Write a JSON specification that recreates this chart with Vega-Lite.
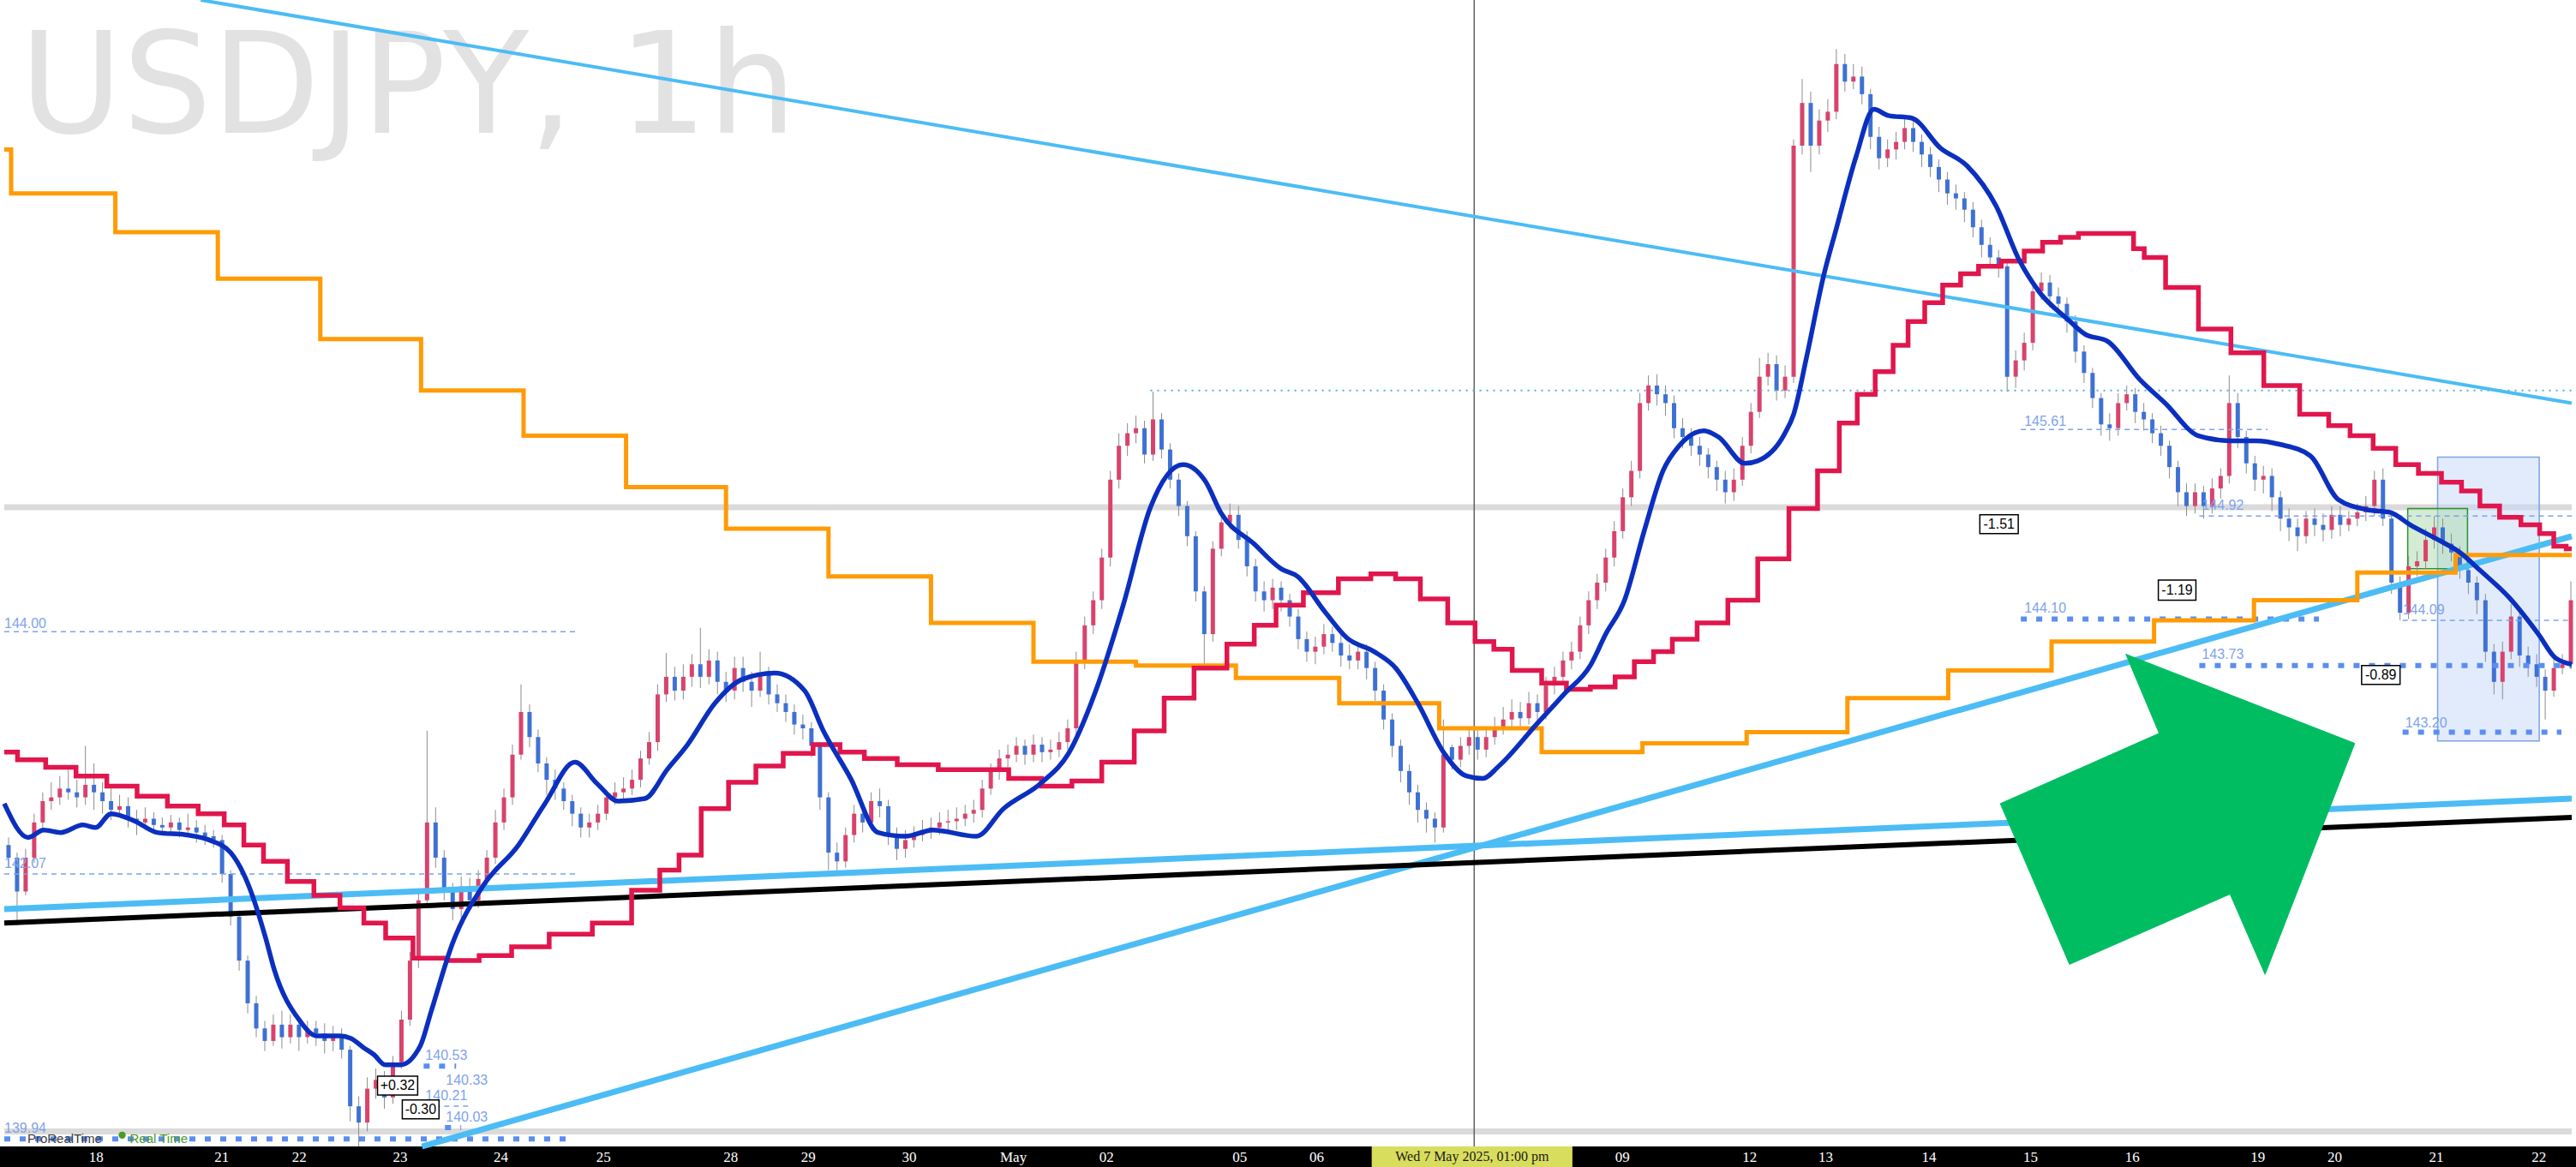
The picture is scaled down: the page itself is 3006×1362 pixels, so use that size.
{
"$schema": "https://vega.github.io/schema/vega-lite/v6.json",
"width": 3006, "height": 1338,
"autosize": {"type": "none"},
"padding": {"left": 0, "top": 0, "right": 0, "bottom": 24},
"background": "#000000",
"config": {"view": {"fill": "#ffffff", "stroke": null}, "font": "Liberation Sans"},
"datasets": {
"candles": [
{"t":1,"o":142.30,"c":142.20,"h":142.36,"l":142.12},{"t":3,"o":142.20,"c":141.93,"h":142.24,"l":141.66},{"t":5,"o":141.93,"c":142.20,"h":142.27,"l":141.90},{"t":7,"o":142.20,"c":142.48,"h":142.55,"l":142.16},{"t":9,"o":142.48,"c":142.65,"h":142.72,"l":142.44},{"t":11,"o":142.65,"c":142.68,"h":142.80,"l":142.58},{"t":13,"o":142.68,"c":142.75,"h":142.85,"l":142.62},{"t":15,"o":142.75,"c":142.72,"h":142.90,"l":142.66},{"t":17,"o":142.72,"c":142.68,"h":142.82,"l":142.60},{"t":19,"o":142.68,"c":142.78,"h":143.09,"l":142.62},
{"t":21,"o":142.78,"c":142.72,"h":142.95,"l":142.58},{"t":23,"o":142.72,"c":142.65,"h":142.80,"l":142.55},{"t":25,"o":142.65,"c":142.58,"h":142.75,"l":142.50},{"t":27,"o":142.58,"c":142.61,"h":142.70,"l":142.52},{"t":29,"o":142.61,"c":142.51,"h":142.68,"l":142.44},{"t":31,"o":142.51,"c":142.48,"h":142.58,"l":142.38},{"t":33,"o":142.48,"c":142.51,"h":142.60,"l":142.42},{"t":35,"o":142.51,"c":142.46,"h":142.56,"l":142.40},{"t":37,"o":142.46,"c":142.44,"h":142.52,"l":142.38},{"t":39,"o":142.44,"c":142.48,"h":142.54,"l":142.40},
{"t":41,"o":142.48,"c":142.42,"h":142.52,"l":142.36},{"t":43,"o":142.42,"c":142.44,"h":142.55,"l":142.38},{"t":45,"o":142.44,"c":142.40,"h":142.50,"l":142.32},{"t":47,"o":142.40,"c":142.37,"h":142.46,"l":142.30},{"t":49,"o":142.37,"c":142.34,"h":142.42,"l":142.28},{"t":51,"o":142.34,"c":142.07,"h":142.38,"l":142.00},{"t":53,"o":142.07,"c":141.73,"h":142.10,"l":141.66},{"t":55,"o":141.73,"c":141.38,"h":141.78,"l":141.30},{"t":57,"o":141.38,"c":141.04,"h":141.42,"l":140.96},{"t":59,"o":141.04,"c":140.84,"h":141.10,"l":140.77},
{"t":61,"o":140.84,"c":140.74,"h":140.90,"l":140.66},{"t":63,"o":140.74,"c":140.87,"h":140.95,"l":140.70},{"t":65,"o":140.87,"c":140.77,"h":140.98,"l":140.68},{"t":67,"o":140.77,"c":140.87,"h":140.95,"l":140.72},{"t":69,"o":140.87,"c":140.77,"h":140.92,"l":140.66},{"t":71,"o":140.77,"c":140.84,"h":140.90,"l":140.72},{"t":73,"o":140.84,"c":140.80,"h":140.90,"l":140.70},{"t":75,"o":140.80,"c":140.74,"h":140.88,"l":140.64},{"t":77,"o":140.74,"c":140.77,"h":140.86,"l":140.66},{"t":79,"o":140.77,"c":140.67,"h":140.84,"l":140.60},
{"t":81,"o":140.67,"c":140.22,"h":140.70,"l":140.10},{"t":83,"o":140.22,"c":140.09,"h":140.30,"l":139.90},{"t":85,"o":140.09,"c":140.36,"h":140.45,"l":140.02},{"t":87,"o":140.36,"c":140.43,"h":140.52,"l":140.28},{"t":89,"o":140.43,"c":140.29,"h":140.50,"l":140.20},{"t":91,"o":140.29,"c":140.57,"h":140.62,"l":140.24},{"t":93,"o":140.57,"c":140.91,"h":140.98,"l":140.52},{"t":95,"o":140.91,"c":141.38,"h":141.45,"l":140.86},{"t":97,"o":141.38,"c":141.86,"h":141.92,"l":141.32},{"t":99,"o":141.86,"c":142.48,"h":143.21,"l":141.82},
{"t":101,"o":142.48,"c":142.20,"h":142.60,"l":142.12},{"t":103,"o":142.20,"c":141.93,"h":142.26,"l":141.86},{"t":105,"o":141.93,"c":141.79,"h":142.00,"l":141.70},{"t":107,"o":141.79,"c":141.97,"h":142.05,"l":141.72},{"t":109,"o":141.97,"c":141.86,"h":142.04,"l":141.78},{"t":111,"o":141.86,"c":142.03,"h":142.10,"l":141.80},{"t":113,"o":142.03,"c":142.20,"h":142.26,"l":141.98},{"t":115,"o":142.20,"c":142.48,"h":142.58,"l":142.15},{"t":117,"o":142.48,"c":142.68,"h":142.75,"l":142.42},{"t":119,"o":142.68,"c":143.02,"h":143.10,"l":142.62},
{"t":121,"o":143.02,"c":143.36,"h":143.58,"l":142.98},{"t":123,"o":143.36,"c":143.16,"h":143.42,"l":143.08},{"t":125,"o":143.16,"c":142.95,"h":143.22,"l":142.88},{"t":127,"o":142.95,"c":142.82,"h":143.00,"l":142.70},{"t":129,"o":142.82,"c":142.75,"h":142.90,"l":142.66},{"t":131,"o":142.75,"c":142.65,"h":142.80,"l":142.58},{"t":133,"o":142.65,"c":142.55,"h":142.70,"l":142.45},{"t":135,"o":142.55,"c":142.44,"h":142.60,"l":142.36},{"t":137,"o":142.44,"c":142.48,"h":142.55,"l":142.36},{"t":139,"o":142.48,"c":142.55,"h":142.62,"l":142.42},
{"t":141,"o":142.55,"c":142.68,"h":142.74,"l":142.50},{"t":143,"o":142.68,"c":142.72,"h":142.80,"l":142.62},{"t":145,"o":142.72,"c":142.75,"h":142.84,"l":142.66},{"t":147,"o":142.75,"c":142.82,"h":142.90,"l":142.70},{"t":149,"o":142.82,"c":142.99,"h":143.05,"l":142.76},{"t":151,"o":142.99,"c":143.12,"h":143.20,"l":142.94},{"t":153,"o":143.12,"c":143.50,"h":143.58,"l":143.05},{"t":155,"o":143.50,"c":143.64,"h":143.83,"l":143.44},{"t":157,"o":143.64,"c":143.53,"h":143.72,"l":143.45},{"t":159,"o":143.53,"c":143.64,"h":143.74,"l":143.46},
{"t":161,"o":143.64,"c":143.74,"h":143.82,"l":143.56},{"t":163,"o":143.74,"c":143.64,"h":144.03,"l":143.55},{"t":165,"o":143.64,"c":143.77,"h":143.86,"l":143.58},{"t":167,"o":143.77,"c":143.60,"h":143.84,"l":143.50},{"t":169,"o":143.60,"c":143.53,"h":143.68,"l":143.44},{"t":171,"o":143.53,"c":143.71,"h":143.80,"l":143.46},{"t":173,"o":143.71,"c":143.60,"h":143.80,"l":143.52},{"t":175,"o":143.60,"c":143.53,"h":143.68,"l":143.40},{"t":177,"o":143.53,"c":143.67,"h":143.84,"l":143.48},{"t":179,"o":143.67,"c":143.50,"h":143.72,"l":143.42},
{"t":181,"o":143.50,"c":143.43,"h":143.58,"l":143.36},{"t":183,"o":143.43,"c":143.36,"h":143.50,"l":143.28},{"t":185,"o":143.36,"c":143.26,"h":143.42,"l":143.18},{"t":187,"o":143.26,"c":143.23,"h":143.34,"l":143.14},{"t":189,"o":143.23,"c":143.09,"h":143.28,"l":143.00},{"t":191,"o":143.09,"c":142.68,"h":143.12,"l":142.58},{"t":193,"o":142.68,"c":142.24,"h":142.72,"l":142.10},{"t":195,"o":142.24,"c":142.17,"h":142.32,"l":142.07},{"t":197,"o":142.17,"c":142.38,"h":142.44,"l":142.12},{"t":199,"o":142.38,"c":142.55,"h":142.62,"l":142.32},
{"t":201,"o":142.55,"c":142.48,"h":142.60,"l":142.40},{"t":203,"o":142.48,"c":142.65,"h":142.72,"l":142.42},{"t":205,"o":142.65,"c":142.61,"h":142.75,"l":142.52},{"t":207,"o":142.61,"c":142.38,"h":142.66,"l":142.30},{"t":209,"o":142.38,"c":142.27,"h":142.44,"l":142.18},{"t":211,"o":142.27,"c":142.34,"h":142.42,"l":142.20},{"t":213,"o":142.34,"c":142.38,"h":142.45,"l":142.28},{"t":215,"o":142.38,"c":142.42,"h":142.50,"l":142.33},{"t":217,"o":142.42,"c":142.44,"h":142.52,"l":142.35},{"t":219,"o":142.44,"c":142.48,"h":142.56,"l":142.38},
{"t":221,"o":142.48,"c":142.49,"h":142.58,"l":142.40},{"t":223,"o":142.49,"c":142.51,"h":142.60,"l":142.42},{"t":225,"o":142.51,"c":142.55,"h":142.62,"l":142.45},{"t":227,"o":142.55,"c":142.58,"h":142.66,"l":142.48},{"t":229,"o":142.58,"c":142.75,"h":142.82,"l":142.52},{"t":231,"o":142.75,"c":142.89,"h":142.95,"l":142.70},{"t":233,"o":142.89,"c":142.99,"h":143.06,"l":142.82},{"t":235,"o":142.99,"c":143.02,"h":143.10,"l":142.92},{"t":237,"o":143.02,"c":143.09,"h":143.16,"l":142.96},{"t":239,"o":143.09,"c":143.02,"h":143.14,"l":142.94},
{"t":241,"o":143.02,"c":143.10,"h":143.18,"l":142.96},{"t":243,"o":143.10,"c":143.04,"h":143.16,"l":142.96},{"t":245,"o":143.04,"c":143.06,"h":143.14,"l":142.98},{"t":247,"o":143.06,"c":143.12,"h":143.20,"l":143.00},{"t":249,"o":143.12,"c":143.23,"h":143.30,"l":143.06},{"t":251,"o":143.23,"c":143.77,"h":143.84,"l":143.18},{"t":253,"o":143.77,"c":144.05,"h":144.12,"l":143.70},{"t":255,"o":144.05,"c":144.25,"h":144.32,"l":143.98},{"t":257,"o":144.25,"c":144.59,"h":144.66,"l":144.18},{"t":259,"o":144.59,"c":145.21,"h":145.28,"l":144.52},
{"t":261,"o":145.21,"c":145.48,"h":145.58,"l":145.14},{"t":263,"o":145.48,"c":145.58,"h":145.66,"l":145.40},{"t":265,"o":145.58,"c":145.62,"h":145.72,"l":145.50},{"t":267,"o":145.62,"c":145.41,"h":145.68,"l":145.34},{"t":269,"o":145.41,"c":145.69,"h":145.91,"l":145.36},{"t":271,"o":145.69,"c":145.45,"h":145.74,"l":145.38},{"t":273,"o":145.45,"c":145.21,"h":145.50,"l":145.14},{"t":275,"o":145.21,"c":145.00,"h":145.26,"l":144.92},{"t":277,"o":145.00,"c":144.76,"h":145.04,"l":144.68},{"t":279,"o":144.76,"c":144.32,"h":144.80,"l":144.24},
{"t":281,"o":144.32,"c":143.98,"h":144.36,"l":143.70},{"t":283,"o":143.98,"c":144.66,"h":144.72,"l":143.92},{"t":285,"o":144.66,"c":144.87,"h":144.94,"l":144.60},{"t":287,"o":144.87,"c":144.93,"h":145.02,"l":144.82},{"t":289,"o":144.93,"c":144.73,"h":145.00,"l":144.66},{"t":291,"o":144.73,"c":144.52,"h":144.80,"l":144.44},{"t":293,"o":144.52,"c":144.32,"h":144.58,"l":144.24},{"t":295,"o":144.32,"c":144.25,"h":144.40,"l":144.16},{"t":297,"o":144.25,"c":144.35,"h":144.42,"l":144.18},{"t":299,"o":144.35,"c":144.25,"h":144.40,"l":144.16},
{"t":301,"o":144.25,"c":144.12,"h":144.30,"l":144.04},{"t":303,"o":144.12,"c":143.94,"h":144.18,"l":143.86},{"t":305,"o":143.94,"c":143.84,"h":144.00,"l":143.76},{"t":307,"o":143.84,"c":143.88,"h":143.96,"l":143.74},{"t":309,"o":143.88,"c":143.98,"h":144.06,"l":143.82},{"t":311,"o":143.98,"c":143.91,"h":144.04,"l":143.84},{"t":313,"o":143.91,"c":143.81,"h":143.98,"l":143.72},{"t":315,"o":143.81,"c":143.77,"h":143.90,"l":143.70},{"t":317,"o":143.77,"c":143.84,"h":143.92,"l":143.70},{"t":319,"o":143.84,"c":143.71,"h":143.90,"l":143.62},
{"t":321,"o":143.71,"c":143.53,"h":143.76,"l":143.45},{"t":323,"o":143.53,"c":143.30,"h":143.58,"l":143.22},{"t":325,"o":143.30,"c":143.09,"h":143.35,"l":143.00},{"t":327,"o":143.09,"c":142.89,"h":143.14,"l":142.80},{"t":329,"o":142.89,"c":142.72,"h":142.94,"l":142.62},{"t":331,"o":142.72,"c":142.58,"h":142.78,"l":142.48},{"t":333,"o":142.58,"c":142.51,"h":142.64,"l":142.40},{"t":335,"o":142.51,"c":142.44,"h":142.56,"l":142.32},{"t":337,"o":142.44,"c":143.02,"h":143.30,"l":142.40},{"t":339,"o":143.08,"c":142.98,"h":143.10,"l":142.90},
{"t":341,"o":142.98,"c":143.09,"h":143.16,"l":142.92},{"t":343,"o":143.09,"c":143.16,"h":143.24,"l":143.02},{"t":345,"o":143.16,"c":143.06,"h":143.22,"l":142.98},{"t":347,"o":143.06,"c":143.16,"h":143.24,"l":143.00},{"t":349,"o":143.16,"c":143.23,"h":143.32,"l":143.10},{"t":351,"o":143.23,"c":143.30,"h":143.40,"l":143.18},{"t":353,"o":143.30,"c":143.36,"h":143.46,"l":143.24},{"t":355,"o":143.36,"c":143.31,"h":143.44,"l":143.22},{"t":357,"o":143.31,"c":143.43,"h":143.52,"l":143.26},{"t":359,"o":143.43,"c":143.36,"h":143.50,"l":143.28},
{"t":361,"o":143.36,"c":143.57,"h":143.64,"l":143.30},{"t":363,"o":143.57,"c":143.64,"h":143.72,"l":143.50},{"t":365,"o":143.64,"c":143.77,"h":143.84,"l":143.58},{"t":367,"o":143.77,"c":143.84,"h":143.92,"l":143.70},{"t":369,"o":143.84,"c":144.05,"h":144.12,"l":143.78},{"t":371,"o":144.05,"c":144.25,"h":144.32,"l":143.98},{"t":373,"o":144.25,"c":144.39,"h":144.46,"l":144.18},{"t":375,"o":144.39,"c":144.59,"h":144.66,"l":144.32},{"t":377,"o":144.59,"c":144.80,"h":144.88,"l":144.52},{"t":379,"o":144.80,"c":145.07,"h":145.14,"l":144.74},
{"t":381,"o":145.07,"c":145.28,"h":145.36,"l":145.00},{"t":383,"o":145.28,"c":145.82,"h":145.90,"l":145.22},{"t":385,"o":145.82,"c":145.96,"h":146.04,"l":145.76},{"t":387,"o":145.96,"c":145.89,"h":146.05,"l":145.80},{"t":389,"o":145.89,"c":145.82,"h":145.96,"l":145.72},{"t":391,"o":145.82,"c":145.62,"h":145.88,"l":145.54},{"t":393,"o":145.62,"c":145.55,"h":145.70,"l":145.46},{"t":395,"o":145.55,"c":145.48,"h":145.62,"l":145.40},{"t":397,"o":145.48,"c":145.41,"h":145.55,"l":145.32},{"t":399,"o":145.41,"c":145.31,"h":145.46,"l":145.22},
{"t":401,"o":145.31,"c":145.21,"h":145.36,"l":145.12},{"t":403,"o":145.21,"c":145.11,"h":145.28,"l":145.02},{"t":405,"o":145.11,"c":145.21,"h":145.30,"l":145.04},{"t":407,"o":145.21,"c":145.48,"h":145.55,"l":145.16},{"t":409,"o":145.48,"c":145.75,"h":145.82,"l":145.42},{"t":411,"o":145.75,"c":146.03,"h":146.18,"l":145.70},{"t":413,"o":146.03,"c":146.13,"h":146.22,"l":145.96},{"t":415,"o":146.13,"c":145.92,"h":146.20,"l":145.84},{"t":417,"o":145.92,"c":146.03,"h":146.12,"l":145.86},{"t":419,"o":146.03,"c":147.87,"h":147.92,"l":145.98},
{"t":421,"o":147.87,"c":148.21,"h":148.40,"l":147.80},{"t":423,"o":148.21,"c":147.87,"h":148.30,"l":147.66},{"t":425,"o":147.87,"c":148.07,"h":148.16,"l":147.80},{"t":427,"o":148.07,"c":148.14,"h":148.24,"l":147.98},{"t":429,"o":148.14,"c":148.52,"h":148.64,"l":148.08},{"t":431,"o":148.52,"c":148.38,"h":148.60,"l":148.30},{"t":433,"o":148.38,"c":148.42,"h":148.52,"l":148.32},{"t":435,"o":148.42,"c":148.28,"h":148.50,"l":148.20},{"t":437,"o":148.28,"c":147.94,"h":148.32,"l":147.84},{"t":439,"o":147.94,"c":147.77,"h":148.02,"l":147.68},
{"t":441,"o":147.77,"c":147.84,"h":147.92,"l":147.70},{"t":443,"o":147.84,"c":147.90,"h":147.98,"l":147.76},{"t":445,"o":147.90,"c":148.01,"h":148.08,"l":147.84},{"t":447,"o":148.01,"c":147.90,"h":148.10,"l":147.82},{"t":449,"o":147.90,"c":147.80,"h":147.96,"l":147.70},{"t":451,"o":147.80,"c":147.70,"h":147.86,"l":147.62},{"t":453,"o":147.70,"c":147.60,"h":147.76,"l":147.50},{"t":455,"o":147.60,"c":147.49,"h":147.66,"l":147.40},{"t":457,"o":147.49,"c":147.45,"h":147.56,"l":147.36},{"t":459,"o":147.45,"c":147.36,"h":147.50,"l":147.26},
{"t":461,"o":147.36,"c":147.22,"h":147.42,"l":147.14},{"t":463,"o":147.22,"c":147.08,"h":147.28,"l":146.98},{"t":465,"o":147.08,"c":146.98,"h":147.14,"l":146.90},{"t":467,"o":146.98,"c":146.91,"h":147.04,"l":146.82},{"t":469,"o":146.91,"c":146.03,"h":146.96,"l":145.91},{"t":471,"o":146.03,"c":146.16,"h":146.24,"l":145.94},{"t":473,"o":146.16,"c":146.30,"h":146.38,"l":146.08},{"t":475,"o":146.30,"c":146.71,"h":146.80,"l":146.24},{"t":477,"o":146.71,"c":146.78,"h":146.86,"l":146.64},{"t":479,"o":146.78,"c":146.67,"h":146.84,"l":146.58},
{"t":481,"o":146.67,"c":146.61,"h":146.74,"l":146.52},{"t":483,"o":146.61,"c":146.47,"h":146.66,"l":146.38},{"t":485,"o":146.47,"c":146.23,"h":146.52,"l":146.14},{"t":487,"o":146.23,"c":146.06,"h":146.28,"l":145.98},{"t":489,"o":146.06,"c":145.86,"h":146.10,"l":145.78},{"t":491,"o":145.86,"c":145.65,"h":145.90,"l":145.56},{"t":493,"o":145.65,"c":145.62,"h":145.74,"l":145.52},{"t":495,"o":145.62,"c":145.82,"h":145.90,"l":145.56},{"t":497,"o":145.82,"c":145.89,"h":145.96,"l":145.76},{"t":499,"o":145.89,"c":145.75,"h":145.94,"l":145.66},
{"t":501,"o":145.75,"c":145.69,"h":145.82,"l":145.60},{"t":503,"o":145.69,"c":145.58,"h":145.74,"l":145.50},{"t":505,"o":145.58,"c":145.48,"h":145.64,"l":145.40},{"t":507,"o":145.48,"c":145.31,"h":145.52,"l":145.22},{"t":509,"o":145.31,"c":145.11,"h":145.36,"l":145.00},{"t":511,"o":145.11,"c":145.00,"h":145.18,"l":144.92},{"t":513,"o":145.00,"c":145.11,"h":145.18,"l":144.94},{"t":515,"o":145.11,"c":145.00,"h":145.16,"l":144.90},{"t":517,"o":145.00,"c":145.14,"h":145.22,"l":144.94},{"t":519,"o":145.14,"c":145.24,"h":145.30,"l":145.06},
{"t":521,"o":145.24,"c":145.82,"h":146.04,"l":145.18},{"t":523,"o":145.82,"c":145.55,"h":145.90,"l":145.46},{"t":525,"o":145.55,"c":145.34,"h":145.60,"l":145.26},{"t":527,"o":145.34,"c":145.21,"h":145.40,"l":145.12},{"t":529,"o":145.21,"c":145.24,"h":145.32,"l":145.10},{"t":531,"o":145.24,"c":145.07,"h":145.30,"l":144.96},{"t":533,"o":145.07,"c":144.90,"h":145.12,"l":144.80},{"t":535,"o":144.90,"c":144.83,"h":144.98,"l":144.72},{"t":537,"o":144.83,"c":144.76,"h":144.90,"l":144.64},{"t":539,"o":144.76,"c":144.90,"h":144.96,"l":144.70},
{"t":541,"o":144.90,"c":144.85,"h":144.98,"l":144.76},{"t":543,"o":144.85,"c":144.81,"h":144.94,"l":144.72},{"t":545,"o":144.81,"c":144.93,"h":145.00,"l":144.74},{"t":547,"o":144.93,"c":144.85,"h":145.00,"l":144.76},{"t":549,"o":144.85,"c":144.90,"h":144.96,"l":144.80},{"t":551,"o":144.90,"c":144.95,"h":145.02,"l":144.84},{"t":553,"o":144.95,"c":145.00,"h":145.08,"l":144.88},{"t":555,"o":145.00,"c":145.21,"h":145.28,"l":144.92},{"t":557,"o":145.21,"c":144.90,"h":145.30,"l":144.84},{"t":559,"o":144.90,"c":144.39,"h":144.94,"l":144.30},
{"t":561,"o":144.39,"c":144.15,"h":144.44,"l":144.09},{"t":563,"o":144.15,"c":144.52,"h":144.60,"l":144.10},{"t":565,"o":144.52,"c":144.56,"h":144.64,"l":144.44},{"t":567,"o":144.56,"c":144.73,"h":144.82,"l":144.50},{"t":569,"o":144.73,"c":144.83,"h":144.92,"l":144.66},{"t":571,"o":144.83,"c":144.70,"h":144.90,"l":144.62},{"t":573,"o":144.70,"c":144.63,"h":144.78,"l":144.56},{"t":575,"o":144.63,"c":144.49,"h":144.68,"l":144.42},{"t":577,"o":144.49,"c":144.39,"h":144.54,"l":144.30},{"t":579,"o":144.39,"c":144.25,"h":144.44,"l":144.14},
{"t":581,"o":144.25,"c":143.84,"h":144.30,"l":143.76},{"t":583,"o":143.84,"c":143.60,"h":143.90,"l":143.50},{"t":585,"o":143.60,"c":143.84,"h":143.92,"l":143.46},{"t":587,"o":143.84,"c":144.12,"h":144.22,"l":143.78},{"t":589,"o":144.12,"c":143.81,"h":144.16,"l":143.72},{"t":591,"o":143.81,"c":143.74,"h":143.88,"l":143.64},{"t":593,"o":143.74,"c":143.64,"h":143.82,"l":143.56},{"t":595,"o":143.64,"c":143.53,"h":143.70,"l":143.30},{"t":597,"o":143.53,"c":143.71,"h":143.78,"l":143.48},{"t":599,"o":143.71,"c":143.74,"h":143.82,"l":143.66},
{"t":601,"o":143.74,"c":144.25,"h":144.40,"l":143.70}
],
"blue": [
{"t":0,"p":142.63},{"t":5.6,"p":142.36},{"t":9.2,"p":142.42},{"t":13.2,"p":142.40},{"t":18.4,"p":142.46},{"t":21.4,"p":142.44},{"t":25,"p":142.55},{"t":30.6,"p":142.49},{"t":35.8,"p":142.40},{"t":42.8,"p":142.38},{"t":48,"p":142.34},{"t":53,"p":142.24},{"t":57.2,"p":141.98},{"t":61.2,"p":141.56},{"t":63.2,"p":141.31},{"t":69,"p":140.91},{"t":73.2,"p":140.78},{"t":78.6,"p":140.78},{"t":81.2,"p":140.76},{"t":84,"p":140.69},{"t":86.6,"p":140.63},{"t":89.2,"p":140.55},{"t":92.8,"p":140.55},{"t":97.4,"p":140.70},{"t":100,"p":140.98},{"t":105,"p":141.52},{"t":112.2,"p":141.98},{"t":120.4,"p":142.30},{"t":126.6,"p":142.63},{"t":133.6,"p":142.96},{"t":138.8,"p":142.79},{"t":143.8,"p":142.65},{"t":150,"p":142.67},{"t":155.2,"p":142.90},{"t":160,"p":143.10},{"t":166.4,"p":143.43},{"t":172.8,"p":143.62},{"t":180.4,"p":143.67},{"t":187.4,"p":143.53},{"t":191.8,"p":143.21},{"t":198.2,"p":142.83},{"t":204.6,"p":142.40},{"t":211,"p":142.37},{"t":217.4,"p":142.42},{"t":227.6,"p":142.37},{"t":234,"p":142.59},{"t":243,"p":142.80},{"t":249.2,"p":143.03},{"t":255.6,"p":143.53},{"t":262,"p":144.21},{"t":268.4,"p":144.99},{"t":276,"p":145.33},{"t":281.2,"p":145.20},{"t":285,"p":144.94},{"t":292.6,"p":144.70},{"t":299,"p":144.50},{"t":302.8,"p":144.44},{"t":309.2,"p":144.16},{"t":314.4,"p":143.95},{"t":320.8,"p":143.84},{"t":325.8,"p":143.71},{"t":331,"p":143.43},{"t":337.2,"p":143.03},{"t":342.4,"p":142.85},{"t":346.2,"p":142.83},{"t":350,"p":142.93},{"t":359,"p":143.27},{"t":365.2,"p":143.50},{"t":371.4,"p":143.73},{"t":375,"p":143.98},{"t":379.4,"p":144.25},{"t":384,"p":144.80},{"t":388.4,"p":145.28},{"t":392.2,"p":145.48},{"t":398,"p":145.60},{"t":401.4,"p":145.55},{"t":407.6,"p":145.34},{"t":410.6,"p":145.36},{"t":416.8,"p":145.57},{"t":419,"p":145.73},{"t":422,"p":146.18},{"t":426,"p":146.83},{"t":429,"p":147.21},{"t":433.6,"p":147.78},{"t":437.8,"p":148.16},{"t":441.2,"p":148.11},{"t":446.6,"p":148.09},{"t":453.4,"p":147.85},{"t":459.6,"p":147.71},{"t":466.4,"p":147.39},{"t":471.8,"p":146.96},{"t":476.4,"p":146.71},{"t":483.4,"p":146.48},{"t":487.2,"p":146.37},{"t":492.6,"p":146.31},{"t":500,"p":146.01},{"t":506,"p":145.82},{"t":513.8,"p":145.56},{"t":521.4,"p":145.52},{"t":527.2,"p":145.52},{"t":533,"p":145.49},{"t":540,"p":145.40},{"t":546.6,"p":145.05},{"t":553.4,"p":144.97},{"t":558.6,"p":144.95},{"t":563.4,"p":144.85},{"t":570,"p":144.73},{"t":574.6,"p":144.64},{"t":580,"p":144.48},{"t":586.6,"p":144.27},{"t":593.4,"p":143.98},{"t":597.4,"p":143.79},{"t":601.2,"p":143.74}
],
"crimson": [
{"t":0,"p":143.04},{"t":6.2,"p":142.98},{"t":13.2,"p":142.92},{"t":20.4,"p":142.85},{"t":27.6,"p":142.77},{"t":34.6,"p":142.69},{"t":41.8,"p":142.61},{"t":49,"p":142.55},{"t":54,"p":142.46},{"t":58.2,"p":142.30},{"t":63.2,"p":142.17},{"t":69.4,"p":142.01},{"t":75.6,"p":141.90},{"t":81.6,"p":141.80},{"t":86.8,"p":141.68},{"t":91.8,"p":141.56},{"t":99.6,"p":141.40},{"t":107.4,"p":141.38},{"t":115,"p":141.42},{"t":122.6,"p":141.49},{"t":132.6,"p":141.59},{"t":142.8,"p":141.68},{"t":151,"p":141.94},{"t":156,"p":142.10},{"t":160,"p":142.22},{"t":166.4,"p":142.59},{"t":172.8,"p":142.80},{"t":179.2,"p":142.93},{"t":185.6,"p":143.03},{"t":193.2,"p":143.10},{"t":198.2,"p":143.04},{"t":204.6,"p":142.99},{"t":213.6,"p":142.94},{"t":223.8,"p":142.90},{"t":231.4,"p":142.90},{"t":239,"p":142.83},{"t":246.8,"p":142.77},{"t":253.2,"p":142.81},{"t":260.8,"p":142.96},{"t":268.4,"p":143.21},{"t":274.8,"p":143.47},{"t":282.4,"p":143.71},{"t":290.2,"p":143.90},{"t":295.2,"p":144.05},{"t":300.4,"p":144.21},{"t":308,"p":144.31},{"t":316.8,"p":144.42},{"t":323.2,"p":144.46},{"t":328.4,"p":144.42},{"t":334.8,"p":144.26},{"t":341.2,"p":144.07},{"t":347.6,"p":143.92},{"t":350,"p":143.86},{"t":356.2,"p":143.69},{"t":363.8,"p":143.59},{"t":367.8,"p":143.54},{"t":375,"p":143.56},{"t":379.4,"p":143.64},{"t":384,"p":143.76},{"t":388.4,"p":143.84},{"t":392.8,"p":143.94},{"t":400,"p":144.07},{"t":407.2,"p":144.25},{"t":414,"p":144.58},{"t":421.8,"p":144.98},{"t":427.4,"p":145.28},{"t":432,"p":145.66},{"t":435.8,"p":145.89},{"t":440.4,"p":146.07},{"t":444.2,"p":146.28},{"t":447.4,"p":146.47},{"t":452,"p":146.62},{"t":455.8,"p":146.76},{"t":460.4,"p":146.85},{"t":464.2,"p":146.91},{"t":471,"p":146.95},{"t":475,"p":147.03},{"t":479.6,"p":147.10},{"t":483.4,"p":147.14},{"t":488,"p":147.17},{"t":497.2,"p":147.17},{"t":500,"p":147.05},{"t":502.2,"p":146.98},{"t":510,"p":146.74},{"t":517.6,"p":146.41},{"t":525.2,"p":146.22},{"t":533,"p":145.96},{"t":542,"p":145.73},{"t":546.6,"p":145.64},{"t":552,"p":145.56},{"t":557.4,"p":145.46},{"t":562.6,"p":145.33},{"t":568,"p":145.26},{"t":573.4,"p":145.19},{"t":577.4,"p":145.12},{"t":582,"p":145.00},{"t":586.6,"p":144.91},{"t":592,"p":144.85},{"t":595.4,"p":144.78},{"t":598.6,"p":144.68},{"t":601.2,"p":144.66}
],
"orange": [
{"t":0,"p":147.84},{"t":1.6,"p":147.49},{"t":26,"p":147.18},{"t":50,"p":146.81},{"t":74,"p":146.33},{"t":97.6,"p":145.92},{"t":121.6,"p":145.56},{"t":145.6,"p":145.15},{"t":169,"p":144.82},{"t":193,"p":144.44},{"t":217,"p":144.07},{"t":241,"p":143.76},{"t":265,"p":143.73},{"t":288.4,"p":143.63},{"t":312.6,"p":143.43},{"t":336,"p":143.23},{"t":360,"p":143.04},{"t":383.6,"p":143.11},{"t":408,"p":143.20},{"t":431.6,"p":143.47},{"t":455.2,"p":143.69},{"t":479.4,"p":143.92},{"t":503.4,"p":144.09},{"t":526.8,"p":144.25},{"t":551,"p":144.47},{"t":574,"p":144.61},{"t":601.2,"p":144.61}
],
"thinDashed": [
{"t":0,"t2":134.4,"p":144.00},{"t":0,"t2":134.4,"p":142.07},{"t":98.6,"t2":108.6,"p":140.22},{"t":472.2,"t2":530,"p":145.61},{"t":514,"t2":601.2,"p":144.92},{"t":561.6,"t2":601.2,"p":144.09}
],
"thickDotted": [
{"t":0,"t2":133,"p":139.96},{"t":98.2,"t2":105.8,"p":140.54},{"t":103.2,"t2":107,"p":140.05},{"t":472.2,"t2":542,"p":144.10},{"t":514,"t2":601.2,"p":143.73},{"t":561.6,"t2":598.8,"p":143.20}
],
"levelLabels": [
{"t":0,"p":140.01,"txt":"139.94"},{"t":98.6,"p":140.59,"txt":"140.53"},{"t":103.4,"p":140.39,"txt":"140.33"},{"t":98.6,"p":140.27,"txt":"140.21"},{"t":103.4,"p":140.10,"txt":"140.03"},{"t":0,"p":144.03,"txt":"144.00"},{"t":0,"p":142.12,"txt":"142.07"},{"t":473,"p":145.64,"txt":"145.61"},{"t":514.6,"p":144.97,"txt":"144.92"},{"t":473,"p":144.15,"txt":"144.10"},{"t":561.6,"p":144.14,"txt":"144.09"},{"t":514.6,"p":143.78,"txt":"143.73"},{"t":562.2,"p":143.24,"txt":"143.20"}
],
"boxes": [
{"t":462.6,"t2":471.6,"p":144.93,"p2":144.78},{"t":504.4,"t2":513.2,"p":144.41,"p2":144.25},{"t":552,"t2":561,"p":143.73,"p2":143.58},{"t":87.4,"t2":96.8,"p":140.46,"p2":140.31},{"t":93.2,"t2":101.8,"p":140.27,"p2":140.12}
],
"boxText": [
{"t":467.1,"p":144.855,"txt":"-1.51"},{"t":508.8,"p":144.33,"txt":"-1.19"},{"t":556.5,"p":143.655,"txt":"-0.89"},{"t":92.1,"p":140.385,"txt":"+0.32"},{"t":97.5,"p":140.195,"txt":"-0.30"}
],
"arrow": [
{"i":0,"t":496.8,"p":143.82},{"i":1,"t":550.4,"p":143.11},{"i":2,"t":529.4,"p":141.27},{"i":3,"t":521.2,"p":141.91},{"i":4,"t":483.6,"p":141.35},{"i":5,"t":467.4,"p":142.63},{"i":6,"t":504.6,"p":143.19}
]
},
"encoding": {
"x": {"field": "t", "type": "quantitative", "scale": {"domain": [0, 601.2], "nice": false, "zero": false},
 "axis": {"values": [21.4,50.8,69,92.6,116.2,140.2,170,188.2,211.8,236.2,258,289.2,307.2,378.8,408.6,426.4,450.6,474.4,498.2,527.6,545.6,569.4,593.4],
  "labelExpr": "['18','21','22','23','24','25','28','29','30','May','02','05','06','09','12','13','14','15','16','19','20','21','22'][indexof([21.4,50.8,69,92.6,116.2,140.2,170,188.2,211.8,236.2,258,289.2,307.2,378.8,408.6,426.4,450.6,474.4,498.2,527.6,545.6,569.4,593.4], datum.value)]",
  "labelColor": "#ffffff", "labelFont": "Liberation Sans Narrow", "labelFontSize": 17, "labelBaseline": "middle", "labelPadding": 12,
  "ticks": false, "tickSize": 0, "domain": false, "grid": false, "title": null, "labelOverlap": false, "labelFlush": false, "labelBound": false}},
"y": {"field": "p", "type": "quantitative", "scale": {"domain": [139.9, 149.03], "nice": false, "zero": false}, "axis": null}
},
"layer": [
{"data": {"values": [{"t": 3.6, "p": 147.97, "txt": "USDJPY, 1h"}]},
 "mark": {"type": "text", "align": "left", "baseline": "alphabetic", "font": "DejaVu Sans", "fontWeight": "normal", "fontSize": 164, "color": "#e2e2e2"},
 "encoding": {"text": {"field": "txt"}}},
{"data": {"values": [{"t": 0, "t2": 601.2, "p": 144.99}, {"t": 0, "t2": 601.2, "p": 140.02}]},
 "mark": {"type": "rule", "color": "#dadada", "strokeWidth": 7},
 "encoding": {"x2": {"field": "t2"}}},
{"data": {"values": [{"t": 344.2, "p": 139.9, "p2": 149.03}]},
 "mark": {"type": "rule", "color": "#606060", "strokeWidth": 1.5},
 "encoding": {"y2": {"field": "p2"}}},
{"data": {"values": [{"t": 569.8, "t2": 593.6, "p": 145.39, "p2": 143.13}]},
 "mark": {"type": "rect", "fill": "#c6d7f7", "fillOpacity": 0.5, "stroke": "#7fa2e6", "strokeWidth": 1.5},
 "encoding": {"x2": {"field": "t2"}, "y2": {"field": "p2"}}},
{"data": {"values": [{"t": 562.8, "t2": 576.8, "p": 144.98, "p2": 144.50}]},
 "mark": {"type": "rect", "fill": "#a9d9a9", "fillOpacity": 0.5, "stroke": "#2f8f2f", "strokeWidth": 1.5},
 "encoding": {"x2": {"field": "t2"}, "y2": {"field": "p2"}}},
{"data": {"name": "candles"},
 "mark": {"type": "rule", "color": "#8c8c8c", "strokeWidth": 1},
 "encoding": {"y": {"field": "l", "type": "quantitative", "scale": {"domain": [139.9, 149.03], "nice": false, "zero": false}, "axis": null}, "y2": {"field": "h"}}},
{"data": {"name": "candles"},
 "mark": {"type": "bar", "width": 5},
 "encoding": {"y": {"field": "o", "type": "quantitative", "scale": {"domain": [139.9, 149.03], "nice": false, "zero": false}, "axis": null}, "y2": {"field": "c"},
  "color": {"condition": {"test": "datum.c > datum.o", "value": "#d8436c"}, "value": "#3e71d3"}}},
{"data": {"name": "thinDashed"},
 "mark": {"type": "rule", "color": "#7ea2ea", "strokeWidth": 1.5, "strokeDash": [6, 5]},
 "encoding": {"x2": {"field": "t2"}}},
{"data": {"values": [{"t": 268.4, "t2": 601.2, "p": 145.92}]},
 "mark": {"type": "rule", "color": "#5aaad6", "strokeWidth": 2, "strokeDash": [2, 6]},
 "encoding": {"x2": {"field": "t2"}}},
{"data": {"name": "thickDotted"},
 "mark": {"type": "rule", "color": "#5b8ef0", "strokeWidth": 6, "strokeDash": [7, 11]},
 "encoding": {"x2": {"field": "t2"}}},
{"data": {"name": "levelLabels"},
 "mark": {"type": "text", "align": "left", "baseline": "alphabetic", "fontSize": 16, "color": "#7fa3ea"},
 "encoding": {"text": {"field": "txt"}}},
{"data": {"values": [{"t": 46, "p": 149.03}, {"t": 601.2, "p": 145.82}]},
 "mark": {"type": "line", "color": "#4cbcf5", "strokeWidth": 4}},
{"data": {"values": [{"id": "a", "t": 97.8, "p": 139.9}, {"id": "a", "t": 601.2, "p": 144.76}, {"id": "b", "t": 0, "p": 141.79}, {"id": "b", "t": 601.2, "p": 142.67}]},
 "mark": {"type": "line", "color": "#4cbcf5", "strokeWidth": 7},
 "encoding": {"detail": {"field": "id"}}},
{"data": {"values": [{"t": 0, "p": 141.68}, {"t": 601.2, "p": 142.52}]},
 "mark": {"type": "line", "color": "#000000", "strokeWidth": 6}},
{"data": {"name": "orange"},
 "mark": {"type": "line", "color": "#ff9b05", "strokeWidth": 5, "interpolate": "step-after"}},
{"data": {"name": "crimson"},
 "mark": {"type": "line", "color": "#e0164c", "strokeWidth": 5.5, "interpolate": "step"}},
{"data": {"name": "blue"},
 "mark": {"type": "line", "color": "#0b2fbf", "strokeWidth": 5.5, "interpolate": "monotone"}},
{"data": {"name": "arrow"},
 "mark": {"type": "line", "interpolate": "linear-closed", "fill": "#00bd62", "stroke": "#00bd62", "strokeWidth": 1},
 "encoding": {"order": {"field": "i", "type": "quantitative"}}},
{"data": {"name": "boxes"},
 "mark": {"type": "rect", "fill": "#ffffff", "stroke": "#000000", "strokeWidth": 1.5},
 "encoding": {"x2": {"field": "t2"}, "y2": {"field": "p2"}}},
{"data": {"name": "boxText"},
 "mark": {"type": "text", "align": "center", "baseline": "middle", "fontSize": 16, "color": "#000000"},
 "encoding": {"text": {"field": "txt"}}},
{"data": {"values": [{"t": 5.4, "p": 139.93, "txt": "ProRealTime"}]},
 "mark": {"type": "text", "align": "left", "baseline": "alphabetic", "fontSize": 15, "color": "#3a3a3a"},
 "encoding": {"text": {"field": "txt"}}},
{"data": {"values": [{"t": 29.4, "p": 139.93, "txt": "Real Time"}]},
 "mark": {"type": "text", "align": "left", "baseline": "alphabetic", "fontSize": 15, "color": "#4a9a2a"},
 "encoding": {"text": {"field": "txt"}}},
{"data": {"values": [{"t": 27.6, "p": 139.99}]},
 "mark": {"type": "point", "shape": "circle", "filled": true, "size": 70, "color": "#4a9a2a", "opacity": 1}},
{"data": {"values": [{"t": 320.2, "t2": 367.2, "p": 139.9, "p2": 139.73}]},
 "mark": {"type": "rect", "fill": "#d9dd5e"},
 "encoding": {"x2": {"field": "t2"}, "y2": {"field": "p2"}}},
{"data": {"values": [{"t": 343.7, "p": 139.815, "txt": "Wed 7 May 2025, 01:00 pm"}]},
 "mark": {"type": "text", "align": "center", "baseline": "middle", "font": "Liberation Sans Narrow", "fontSize": 16, "color": "#1a1a1a"},
 "encoding": {"text": {"field": "txt"}}}
]
}
